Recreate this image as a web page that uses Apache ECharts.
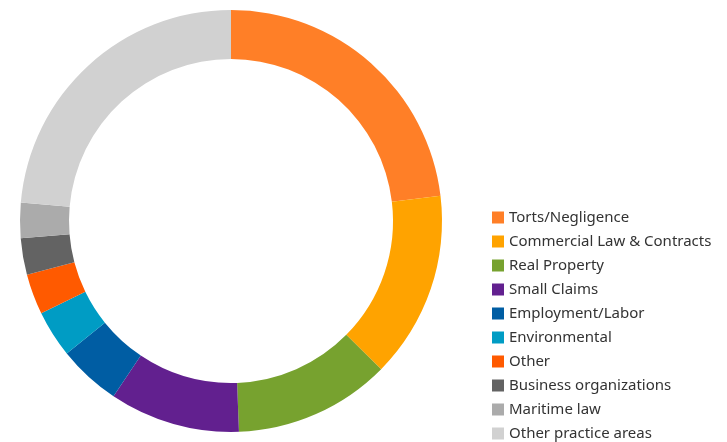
<!DOCTYPE html>
<html>
<head>
<meta charset="utf-8">
<script src="https://cdn.jsdelivr.net/npm/echarts@6/dist/echarts.min.js"></script>
<style>
html,body{margin:0;padding:0;background:#fff;}
#chart{width:727px;height:442px;}
</style>
</head>
<body>
<div id="chart"></div>
<script>
const categories = ["Torts/Negligence","Commercial Law & Contracts","Real Property","Small Claims","Employment/Labor","Environmental","Other","Business organizations","Maritime law","Other practice areas"];
const values = [23.1, 14.3, 12.0, 10.0, 4.8, 3.6, 3.1, 2.8, 2.7, 23.6];
const colors = ["#FF7F27","#FFA300","#77A22F","#62208F","#005DA3","#009CC4","#FF5A00","#636363","#ABABAB","#D1D1D1"];

const chart = echarts.init(document.getElementById('chart'), null, {renderer:'canvas'});
chart.setOption({
  animation:false,
  color: colors,
  legend:{
    orient:'vertical',
    left:492,
    top:210,
    padding:0,
    icon:'rect',
    itemWidth:12,
    itemHeight:12,
    itemGap:9,
    textStyle:{fontFamily:'Noto Sans',fontSize:15,color:'#333'},
    data: categories
  },
  series:[{
    type:'pie',
    center:[231,221],
    radius:[162,211],
    startAngle:90,
    clockwise:true,
    label:{show:false},
    labelLine:{show:false},
    itemStyle:{borderWidth:0},
    emphasis:{disabled:true},
    data: categories.map((c,i)=>({name:c,value:values[i]}))
  }]
});
</script>
</body>
</html>
